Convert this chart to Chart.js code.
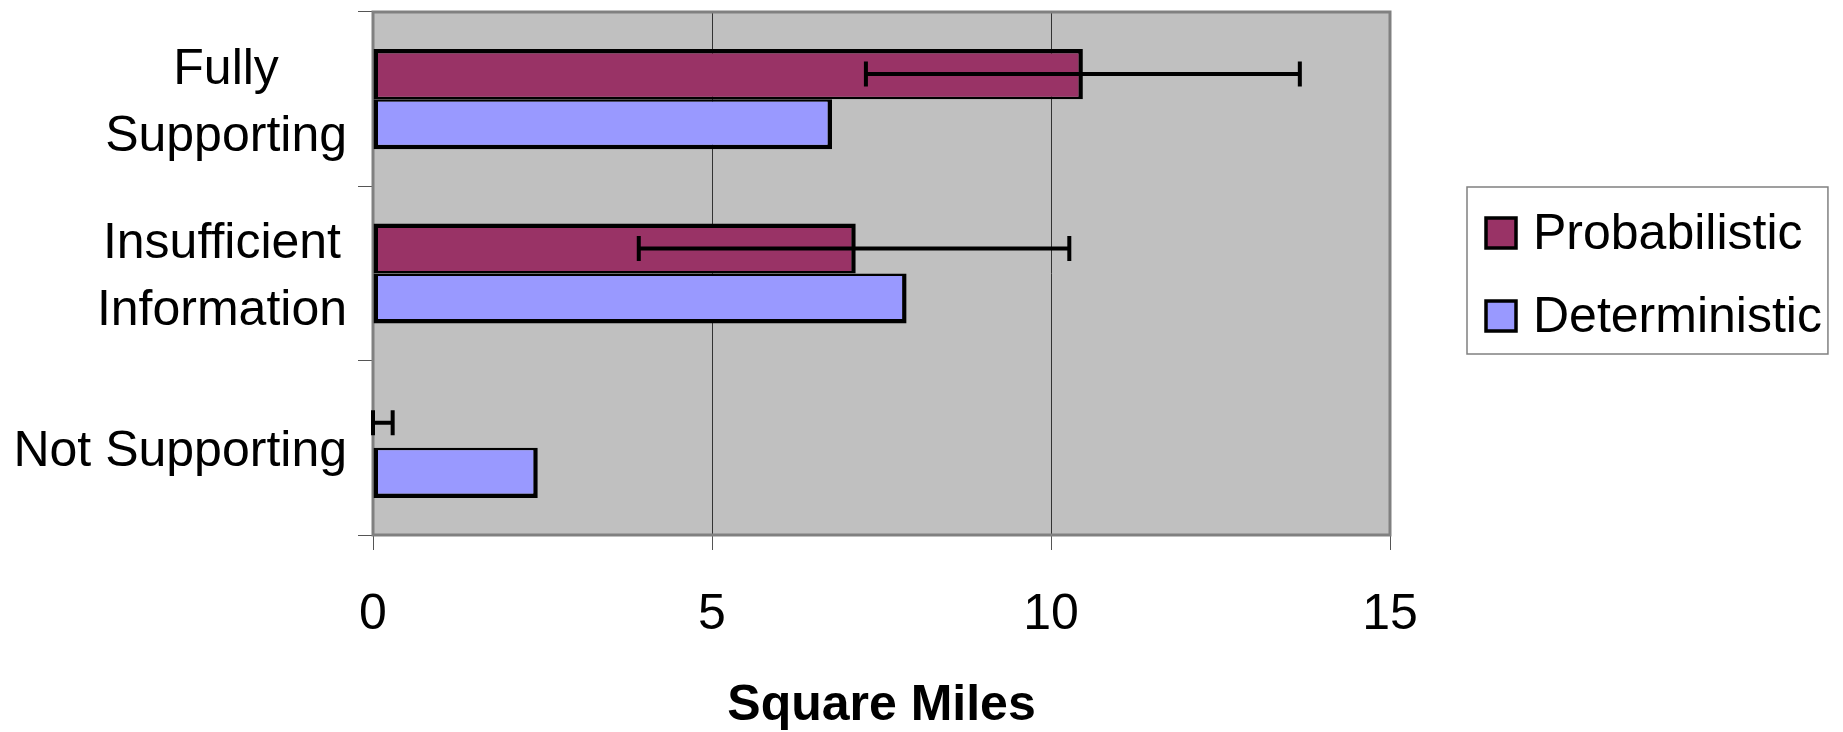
<!DOCTYPE html>
<html lang="en">
<head>
    <meta charset="UTF-8">
    <title>Square Miles by Support Status</title>
    <script src="https://cdn.jsdelivr.net/npm/chart.js"></script>
    <style>
        html, body { margin: 0; padding: 0; background: #fff; }
        #wrap { width: 1843px; height: 732px; }
    </style>
</head>
<body>
    <div id="wrap"><canvas id="areaChart"></canvas></div>

    <script>
        const categories = [["Fully", "Supporting"], ["Insufficient", "Information"], ["Not Supporting"]];
        const probabilistic = [10.47, 7.12, 0];
        const deterministic = [6.77, 7.87, 2.43];
        // error bar ends for the probabilistic series
        const probLow = [7.27, 3.92, 0];
        const probHigh = [13.67, 10.27, 0.29];
        const xTicks = [0, 5, 10, 15];

        const FONT = "'Liberation Sans', Arial, sans-serif";

        const plotBackground = {
            id: "plotBackground",
            beforeDraw(chart) {
                const { ctx, chartArea: a } = chart;
                ctx.save();
                ctx.fillStyle = "#C0C0C0";
                ctx.fillRect(a.left, a.top, a.right - a.left, a.bottom - a.top);
                ctx.restore();
            },
            beforeDatasetsDraw(chart) {
                const { ctx, chartArea: a } = chart;
                ctx.save();
                ctx.strokeStyle = "#808080";
                ctx.lineWidth = 3;
                ctx.strokeRect(a.left, a.top, a.right - a.left, a.bottom - a.top);
                ctx.restore();
            }
        };

        const errorBars = {
            id: "errorBars",
            afterDatasetsDraw(chart) {
                const { ctx } = chart;
                const x = chart.scales.x;
                const meta = chart.getDatasetMeta(0);
                ctx.save();
                ctx.strokeStyle = "#000";
                ctx.lineWidth = 4;
                meta.data.forEach((bar, i) => {
                    const y = bar.y;
                    const x1 = x.getPixelForValue(probLow[i]);
                    const x2 = x.getPixelForValue(probHigh[i]);
                    ctx.beginPath();
                    ctx.moveTo(x1, y); ctx.lineTo(x2, y);
                    ctx.moveTo(x1, y - 12.5); ctx.lineTo(x1, y + 12.5);
                    ctx.moveTo(x2, y - 12.5); ctx.lineTo(x2, y + 12.5);
                    ctx.stroke();
                });
                ctx.restore();
            }
        };

        // category labels: block right-aligned, lines centred within the block
        const categoryLabels = {
            id: "categoryLabels",
            afterDraw(chart) {
                const { ctx } = chart;
                const y = chart.scales.y;
                const right = y.right - 26;
                const lineGap = 67;
                const capHalf = 18;
                ctx.save();
                ctx.font = "50px " + FONT;
                ctx.fillStyle = "#000";
                ctx.textAlign = "center";
                ctx.textBaseline = "alphabetic";
                categories.forEach((lines, i) => {
                    const cy = y.getPixelForValue(i);
                    const widest = Math.max(...lines.map(l => ctx.measureText(l).width));
                    const cx = right - widest / 2;
                    lines.forEach((line, j) => {
                        const ly = cy + (j - (lines.length - 1) / 2) * lineGap + capHalf;
                        ctx.fillText(line, cx, ly);
                    });
                });
                ctx.restore();
            }
        };

        const boxLegend = {
            id: "boxLegend",
            afterDraw(chart) {
                const { ctx, chartArea: a } = chart;
                ctx.save();
                ctx.font = "50px " + FONT;
                const items = chart.data.datasets;
                const widest = Math.max(...items.map(d => ctx.measureText(d.label).width));
                const rowGap = 83;
                const left = a.right + 77;
                const width = 66 + widest + 6;
                const height = 167;
                const top = (a.top + a.bottom) / 2 - height / 2 - 3;
                ctx.strokeStyle = "#808080";
                ctx.lineWidth = 1.5;
                ctx.strokeRect(left, top, width, height);
                ctx.textBaseline = "middle";
                ctx.textAlign = "left";
                items.forEach((d, i) => {
                    const cy = top + 46 + i * rowGap;
                    ctx.fillStyle = d.backgroundColor;
                    ctx.fillRect(left + 19, cy - 15, 30, 30);
                    ctx.strokeStyle = "#000";
                    ctx.lineWidth = 3.5;
                    ctx.strokeRect(left + 19, cy - 15, 30, 30);
                    ctx.fillStyle = "#000";
                    ctx.fillText(d.label, left + 66, cy + 2);
                });
                ctx.restore();
            }
        };

        document.addEventListener("DOMContentLoaded", () => {
            const ctx = document.getElementById("areaChart").getContext("2d");

            new Chart(ctx, {
                type: "bar",
                data: {
                    labels: categories,
                    datasets: [{
                        label: "Probabilistic",
                        data: probabilistic,
                        backgroundColor: "#993366",
                        borderColor: "#000",
                        borderWidth: { top: 4.5, right: 4.5, bottom: 2.5, left: 4.5 },
                        borderSkipped: false
                    }, {
                        label: "Deterministic",
                        data: deterministic,
                        backgroundColor: "#9999FF",
                        borderColor: "#000",
                        borderWidth: { top: 2.5, right: 4.5, bottom: 4.5, left: 4.5 },
                        borderSkipped: false
                    }]
                },
                options: {
                    indexAxis: "y",
                    responsive: true,
                    maintainAspectRatio: false,
                    animation: false,
                    events: [],
                    layout: { padding: { top: 12, right: 453, bottom: 0, left: 0 } },
                    datasets: { bar: { categoryPercentage: 0.575, barPercentage: 1 } },
                    plugins: {
                        legend: { display: false },
                        tooltip: { enabled: false }
                    },
                    scales: {
                        x: {
                            type: "linear",
                            min: xTicks[0],
                            max: xTicks[xTicks.length - 1],
                            afterBuildTicks: s => { s.ticks = xTicks.map(v => ({ value: v })); },
                            afterFit: s => { s.height = 197; },
                            border: { display: false },
                            grid: { color: "#333", lineWidth: 1, tickLength: 15, tickColor: "#555" },
                            ticks: { color: "#000", padding: 35, font: { family: FONT, size: 50 } },
                            title: {
                                display: true,
                                text: "Square Miles",
                                color: "#000",
                                padding: { top: 0, bottom: -4 },
                                font: { family: FONT, size: 50, weight: "bold" }
                            }
                        },
                        y: {
                            afterFit: s => { s.width = 373; },
                            border: { display: false },
                            grid: { drawOnChartArea: false, tickLength: 15, color: "#555", offset: true },
                            ticks: { display: false }
                        }
                    }
                },
                plugins: [plotBackground, errorBars, categoryLabels, boxLegend]
            });
        });
    </script>
</body>
</html>
